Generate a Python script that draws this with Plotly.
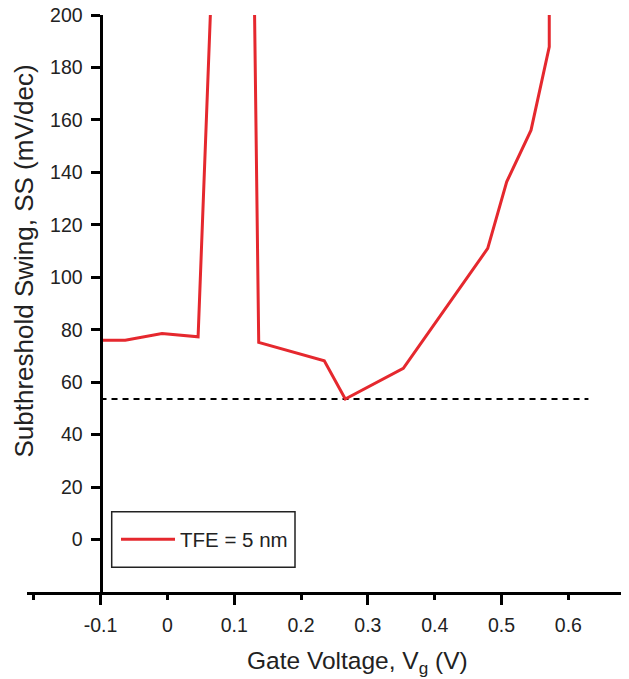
import plotly.graph_objects as go

# Data
vg = [-0.1, -0.063, -0.008, 0.046, 0.067, 0.13, 0.1367, 0.2348, 0.2662, 0.353,
      0.4793, 0.5077, 0.5441, 0.5714, 0.5714]
ss = [76.0, 76.0, 78.6, 77.3, 218.0, 210.0, 75.2, 68.2, 53.6, 65.3,
      111.0, 136.4, 156.1, 187.9, 230.0]

ref_x = [-0.1, 0.63]
ref_y = [53.6, 53.6]

x_tickvals = [-0.2, -0.1, 0.0, 0.1, 0.2, 0.3, 0.4, 0.5, 0.6]
x_ticktext = ["", "-0.1", "0", "0.1", "0.2", "0.3", "0.4", "0.5", "0.6"]
x_long_ticks = [-0.1, 0.1, 0.3, 0.5]
y_tickvals = [0, 20, 40, 60, 80, 100, 120, 140, 160, 180, 200]

FONT = "Liberation Sans, Arial, sans-serif"
TXT = "#222222"
RED = "#e5282e"

# page body has an 8px margin; the figure sits at (8, 8) in the window
OFF = 8
W, H = 629 - OFF, 679 - OFF
ML, MR, MT, MB = 27 - OFF, 0, 15 - OFF, 87
PW, PH = W - ML - MR, H - MT - MB
xr = [-0.21, 0.6907]
yr = [-20, 200.02]


def px2paper_x(px):
    return (px - OFF - ML) / PW


def px2paper_y(py):
    return (H + OFF - MB - py) / PH


fig = go.Figure()
fig.add_trace(go.Scatter(x=ref_x, y=ref_y, mode="lines",
                         line=dict(color="black", width=2, dash="6px,5px"),
                         showlegend=False, hoverinfo="skip"))
fig.add_trace(go.Scatter(x=vg, y=ss, mode="lines", name="TFE = 5 nm",
                         line=dict(color=RED, width=3)))

ypos = (-0.1 - xr[0]) / (xr[1] - xr[0])

fig.update_layout(
    width=W, height=H,
    margin=dict(l=ML, r=MR, t=MT, b=MB, autoexpand=False),
    paper_bgcolor="white", plot_bgcolor="white",
    font=dict(family=FONT, color=TXT, size=19.5),
    xaxis=dict(range=xr, showgrid=False, zeroline=False, automargin=False,
               showline=True, linecolor="black", linewidth=3,
               ticks="outside", ticklen=5, tickwidth=3, tickcolor="black",
               tickvals=x_tickvals, ticktext=x_ticktext,
               ticklabelstandoff=9, ticklabeloverflow="allow",
               tickfont=dict(size=19.5, color=TXT, family=FONT),
               minor=dict(tickvals=x_long_ticks, ticks="outside", ticklen=10,
                          tickwidth=3, tickcolor="black", showgrid=False)),
    yaxis=dict(range=yr, showgrid=False, zeroline=False, automargin=False,
               anchor="free", position=ypos,
               showline=True, linecolor="black", linewidth=3,
               ticks="outside", ticklen=9, tickwidth=3, tickcolor="black",
               tickvals=y_tickvals,
               ticklabelstandoff=4, ticklabeloverflow="allow",
               tickfont=dict(size=19.5, color=TXT, family=FONT)),
    legend=dict(x=px2paper_x(116), y=px2paper_y(539.5), xanchor="left", yanchor="middle",
                bgcolor="rgba(0,0,0,0)", borderwidth=0,
                font=dict(size=20.5, color=TXT, family=FONT),
                itemwidth=54),
    shapes=[dict(type="rect", xref="paper", yref="paper",
                 x0=px2paper_x(111.7), x1=px2paper_x(295),
                 y0=px2paper_y(567.3), y1=px2paper_y(511.7),
                 line=dict(color="#222222", width=1.5), fillcolor="rgba(0,0,0,0)")],
    annotations=[
        dict(text="Gate Voltage, V<sub>g</sub> (V)", xref="paper", yref="paper",
             x=px2paper_x(357.7), y=px2paper_y(662), xanchor="center", yanchor="middle",
             showarrow=False, font=dict(size=24.5, color=TXT, family=FONT)),
        dict(text="Subthreshold Swing, SS (mV/dec)", xref="paper", yref="paper",
             x=px2paper_x(24), y=px2paper_y(261.5), xanchor="center", yanchor="middle",
             textangle=-90, showarrow=False, font=dict(size=26, color=TXT, family=FONT)),
    ],
)

fig.write_html("out.html")
